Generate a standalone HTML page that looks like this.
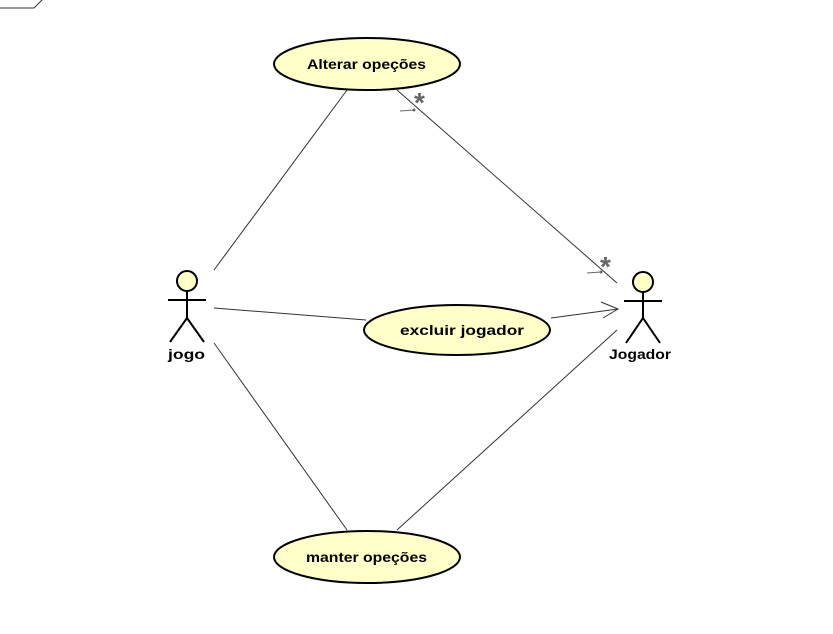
<!DOCTYPE html>
<html><head><style>body{margin:0;background:#fff}svg{display:block}text{font-family:"Liberation Sans",Arial,sans-serif}</style></head>
<body>
<svg width="833" height="634" viewBox="0 0 833 634" xmlns="http://www.w3.org/2000/svg">
<polyline points="0,8 34,8 43,-1" fill="none" stroke="#333" stroke-width="1"/>
<g stroke="#333" stroke-width="1" fill="none">
<line x1="214" y1="270" x2="347" y2="90"/>
<line x1="214" y1="308" x2="366" y2="320"/>
<line x1="214" y1="343" x2="347" y2="530"/>
<line x1="397" y1="90" x2="617" y2="283"/>
<line x1="551" y1="318" x2="618" y2="309"/>
<polyline points="601,302 618,309 603,318"/>
<line x1="397" y1="530" x2="617" y2="330"/>
</g>
<g fill="#666" font-size="28" font-weight="bold">
<text x="414" y="112">*</text>
<text x="600" y="276">*</text>
</g>
<g stroke="#666" stroke-width="1"><line x1="400" y1="111" x2="414" y2="110"/><line x1="587" y1="273" x2="601" y2="272"/></g>
<g fill="#666"><circle cx="414" cy="110" r="1.5"/><circle cx="601" cy="272" r="1.5"/></g>
<g fill="#ffffc8" stroke="#000" stroke-width="2">
<ellipse cx="367" cy="64" rx="93" ry="26"/>
<ellipse cx="457" cy="330" rx="93" ry="25"/>
<ellipse cx="367" cy="557" rx="93" ry="26"/>
</g>
<g font-size="14" font-weight="bold" fill="#000">
<text x="307" y="69" textLength="119" lengthAdjust="spacingAndGlyphs">Alterar opeções</text>
<text x="400" y="335" textLength="124" lengthAdjust="spacingAndGlyphs">excluir jogador</text>
<text x="306" y="562" textLength="121" lengthAdjust="spacingAndGlyphs">manter opeções</text>
<text x="168" y="359" textLength="37" lengthAdjust="spacingAndGlyphs">jogo</text>
<text x="609" y="359" textLength="62" lengthAdjust="spacingAndGlyphs">Jogador</text>
</g>
<g stroke="#000" stroke-width="2" fill="none">
<circle cx="187" cy="281" r="10" fill="#ffffc8"/>
<line x1="187" y1="291" x2="187" y2="318"/>
<line x1="168" y1="300" x2="206" y2="300"/>
<polyline points="170,342 187,318 204,342"/>
<circle cx="643" cy="282" r="10" fill="#ffffc8"/>
<line x1="643" y1="292" x2="643" y2="318"/>
<line x1="624" y1="301" x2="662" y2="301"/>
<polyline points="626,343 643,318 660,343"/>
</g>
</svg>
</body></html>
